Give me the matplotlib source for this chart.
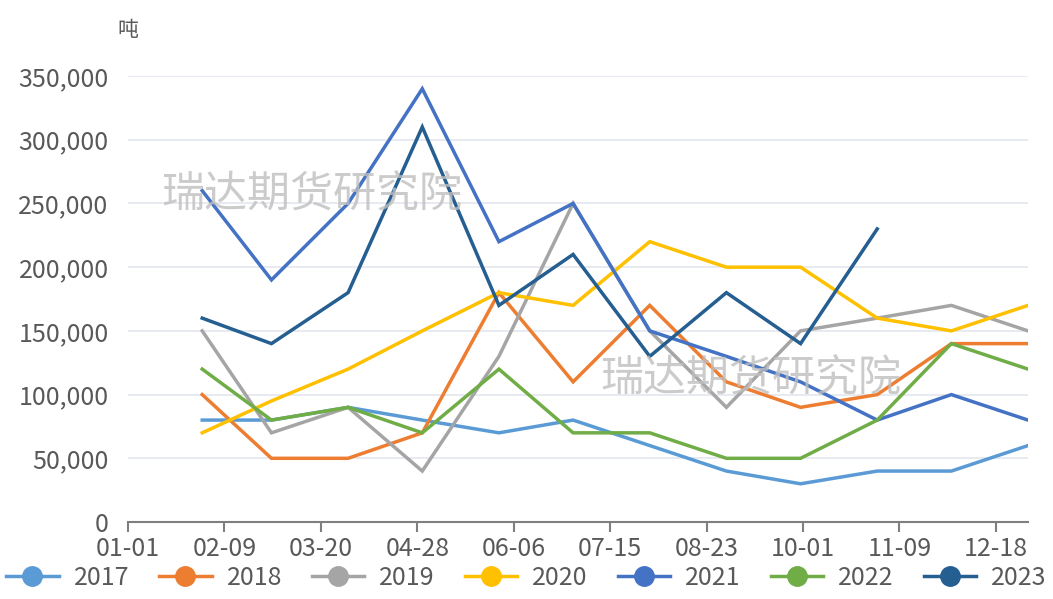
import numpy as np
import pandas as pd
import matplotlib
matplotlib.use("Agg")
from matplotlib import pyplot as plt

plt.rcParams['font.family'] = ['Noto Sans CJK SC', 'DejaVu Sans']

# month-end points (day of year), ticks every 39 days from 01-01
months = pd.date_range("2023-01-31", periods=12, freq="ME")
xdays = np.array([d.dayofyear - 1 for d in months])
tick_days = np.arange(0, 360, 39)
tick_labels = ["01-01", "02-09", "03-20", "04-28", "06-06",
               "07-15", "08-23", "10-01", "11-09", "12-18"]

years = ["2017", "2018", "2019", "2020", "2021", "2022", "2023"]
v2017 = [80000, 80000, 90000, 80000, 70000, 80000, 60000, 40000, 30000, 40000, 40000, 60000]
v2018 = [100000, 50000, 50000, 70000, 180000, 110000, 170000, 110000, 90000, 100000, 140000, 140000]
v2019 = [150000, 70000, 90000, 40000, 130000, 250000, 150000, 90000, 150000, 160000, 170000, 150000]
v2020 = [70000, 95000, 120000, 150000, 180000, 170000, 220000, 200000, 200000, 160000, 150000, 170000]
v2021 = [260000, 190000, 250000, 340000, 220000, 250000, 150000, 130000, 110000, 80000, 100000, 80000]
v2022 = [120000, 80000, 90000, 70000, 120000, 70000, 70000, 50000, 50000, 80000, 140000, 120000]
v2023 = [160000, 140000, 180000, 310000, 170000, 210000, 130000, 180000, 140000, 230000]
series = [v2017, v2018, v2019, v2020, v2021, v2022, v2023]
colors = ["#5B9BD5", "#ED7D31", "#A5A5A5", "#FFC000", "#4472C4", "#70AD47", "#255E91"]

fig = plt.figure(figsize=(10.53, 5.99), dpi=100)
ax = fig.add_axes([0.1216, 0.1285, 0.8547, 0.7446])

for name, vals, c in zip(years, series, colors):
    ax.plot(xdays[:len(vals)], vals, color=c, lw=2.5, label=name,
            solid_joinstyle="miter")

ax.set_xlim(0, 364)
ax.set_ylim(0, 350000)
ax.set_yticks(np.arange(0, 350001, 50000))
ax.set_yticklabels([f"{v:,}" for v in range(0, 350001, 50000)])
ax.set_xticks(tick_days)
ax.set_xticklabels(tick_labels)
ax.grid(axis="y", color="#E3E6EE", lw=1.2)
ax.set_axisbelow(True)
for s in ["left", "right", "top"]:
    ax.spines[s].set_visible(False)
ax.spines["bottom"].set_color("#7F7F7F")
ax.spines["bottom"].set_linewidth(1.5)
ax.tick_params(axis="y", length=0, labelsize=18, labelcolor="#595959", pad=14)
ax.tick_params(axis="x", length=7, width=1.5, color="#7F7F7F", labelsize=18,
               labelcolor="#595959", pad=3)

fig.text(0.1216, 0.95, "吨", fontsize=15, color="#595959", ha="center", va="center")

# watermarks
fig.text(0.296, 0.674, "瑞达期货研究院", fontsize=31, color="#BFBFBF", alpha=0.8,
         ha="center", va="center")
fig.text(0.713, 0.366, "瑞达期货研究院", fontsize=31, color="#BFBFBF", alpha=0.8,
         ha="center", va="center")

handles = [plt.Line2D([], [], color=c, lw=2.5, marker="o", markersize=14,
                      markerfacecolor=c, markeredgecolor=c) for c in colors]
fig.legend(handles, years, loc="lower center", bbox_to_anchor=(0.5, -0.012),
           ncol=7, frameon=False, fontsize=18, handlelength=2.1,
           columnspacing=1.2, handletextpad=0.6, labelcolor="#595959",
           borderaxespad=0.2)

fig.savefig("out.png", dpi=100)
